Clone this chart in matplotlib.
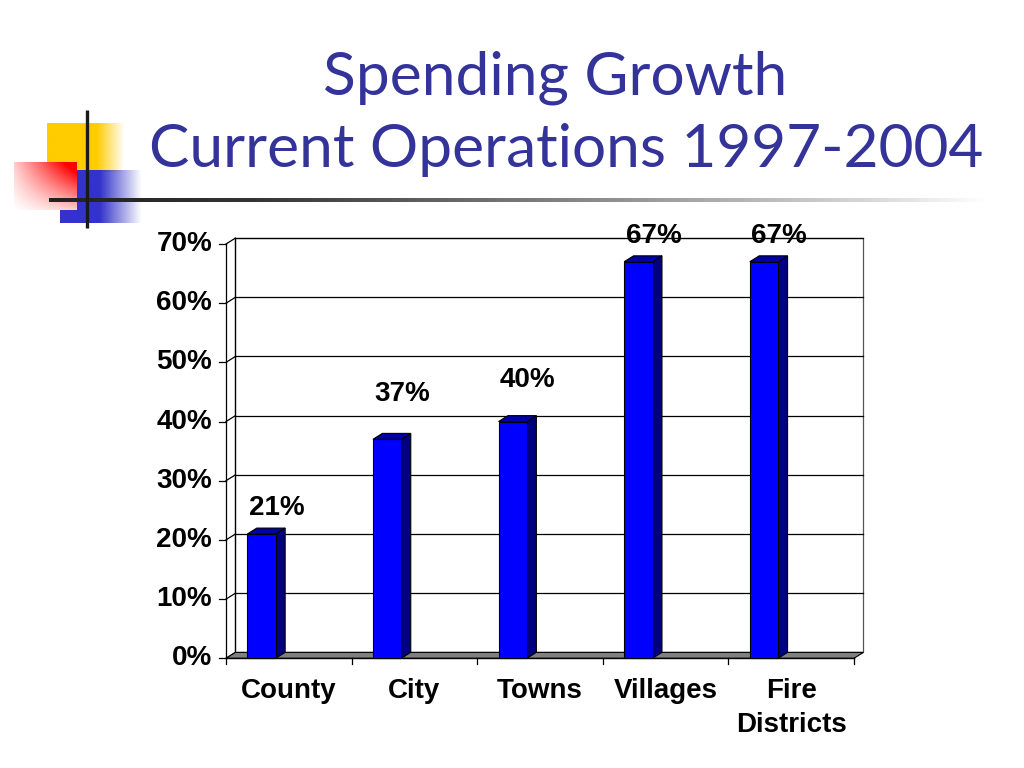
import numpy as np
import matplotlib
matplotlib.use("Agg")
import matplotlib.pyplot as plt
from matplotlib import font_manager
from matplotlib.patches import Polygon, Rectangle

# data
categories = ["County", "City", "Towns", "Villages", "Fire\nDistricts"]
growth_pct = [21, 37, 40, 67, 67]
value_labels = ["21%", "37%", "40%", "67%", "67%"]
y_ticks = [0, 10, 20, 30, 40, 50, 60, 70]
y_tick_labels = ["0%", "10%", "20%", "30%", "40%", "50%", "60%", "70%"]
title_lines = ["Spending Growth", "Current Operations 1997-2004"]

# layout tweaks (label lift above each bar, in % units)
label_lift = [4.4, 7.6, 7.1, 4.4, 4.4]

TITLE_BLUE = "#333399"
installed = {f.name for f in font_manager.fontManager.ttflist}
title_font = "Liberation Sans Narrow" if "Liberation Sans Narrow" in installed else "Lato"
title_size = 46 if title_font == "Liberation Sans Narrow" else 43.5

fig = plt.figure(figsize=(10.24, 7.68), dpi=100)
fig.patch.set_facecolor("white")

# ---- slide decoration, in pixel coords
deco = fig.add_axes([0, 0, 1, 1])
deco.set_axis_off()


def grad_rect(ax, x0, x1, y0, y1, rgba):
    ax.imshow(rgba, extent=(x0, x1, y1, y0), aspect="auto", interpolation="bilinear", zorder=2)


# yellow square, fading right
w = 80
a = np.clip((125 - np.linspace(47, 125, w)) / 28.0, 0, 1)
yel = np.zeros((10, w, 4))
yel[..., 0], yel[..., 1], yel[..., 2] = 1.0, 0.8, 0.0
yel[..., 3] = a[None, :]
grad_rect(deco, 47, 125, 123, 172, yel)

# blue square, fading right
w = 90
a = np.clip((142 - np.linspace(60, 142, w)) / 42.0, 0, 1)
blu = np.zeros((10, w, 4))
blu[..., 0], blu[..., 1], blu[..., 2] = 0.2, 0.2, 0.8
blu[..., 3] = a[None, :]
grad_rect(deco, 60, 142, 170, 223, blu)

# red square, red top-right -> white bottom-left
nx, ny = 60, 50
gx = np.linspace(0, 1, nx)[None, :]
gy = np.linspace(1, 0, ny)[:, None]
t = np.clip(0.8 * gx * gy + 0.2 * (gx + gy), 0, 1)
red = np.ones((ny, nx, 4))
red[..., 1] = 1 - t
red[..., 2] = 1 - t
grad_rect(deco, 14, 77, 162, 210, red)

# horizontal rule fading to light grey
w = 400
g = np.clip(np.interp(np.linspace(49, 985, w), [49, 250, 600, 900, 985],
                      [0.13, 0.2, 0.55, 0.88, 1.0]), 0, 1)
rule = np.ones((2, w, 4))
rule[..., 0] = g[None, :]
rule[..., 1] = g[None, :]
rule[..., 2] = g[None, :]
grad_rect(deco, 49, 985, 198, 202, rule)

deco.plot([87, 87], [110, 228], color="#1a1a1a", lw=2.4, zorder=3, solid_capstyle="butt")

deco.text(555, 78, title_lines[0], ha="center", va="center", color=TITLE_BLUE,
          fontsize=title_size, family=title_font)
deco.text(566, 150, title_lines[1], ha="center", va="center", color=TITLE_BLUE,
          fontsize=title_size, family=title_font)
deco.set_xlim(0, 1024)
deco.set_ylim(768, 0)

# ---- chart
ax = fig.add_axes([226 / 1024, (768 - 658.3) / 768, 628 / 1024, 414.3 / 768])
ax.set_axis_off()
n = len(categories)
ymax = y_ticks[-1]
ax.set_xlim(0, n)
ax.set_ylim(0, ymax)

dx, dy = 0.075, 1.0        # depth offset
edge = dict(edgecolor="black", linewidth=0.8)
lab = dict(fontsize=20, fontweight="bold", family="Liberation Sans", clip_on=False)

# back wall + gridlines
ax.add_patch(Rectangle((dx, dy), n, ymax, facecolor="white", edgecolor="#555555",
                       linewidth=0.9, zorder=1, clip_on=False))
for v in y_ticks[1:]:
    ax.plot([dx, n + dx], [v + dy, v + dy], color="black", lw=0.9, zorder=2, clip_on=False)
for v, s in zip(y_ticks, y_tick_labels):
    ax.plot([0, dx], [v, v + dy], color="black", lw=0.9, zorder=2, clip_on=False)
    ax.plot([-0.055, 0], [v, v], color="black", lw=0.9, zorder=2, clip_on=False)
    ax.text(-0.11, v, s, ha="right", va="center", **lab)

# floor
ax.add_patch(Polygon([(0, 0), (n, 0), (n + dx, dy), (dx, dy)], closed=True,
                     facecolor="#808080", zorder=3, clip_on=False, **edge))
ax.plot([0, 0], [0, ymax], color="black", lw=0.9, zorder=3, clip_on=False)
ax.plot([dx, dx], [dy, ymax + dy], color="black", lw=0.9, zorder=2, clip_on=False)
ax.plot([0, n], [0, 0], color="black", lw=1.0, zorder=3, clip_on=False)
for i in range(n + 1):
    ax.plot([i, i], [0, -1.0], color="black", lw=0.9, zorder=3, clip_on=False)

# bars
bw, off = 0.226, 0.17
for i, v in enumerate(growth_pct):
    x0 = i + off
    x1 = x0 + bw
    ax.add_patch(Polygon([(x1, 0), (x1 + dx, dy), (x1 + dx, v + dy), (x1, v)],
                         closed=True, facecolor="#000080", zorder=4, clip_on=False, **edge))
    ax.add_patch(Polygon([(x0, v), (x1, v), (x1 + dx, v + dy), (x0 + dx, v + dy)],
                         closed=True, facecolor="#0000A8", zorder=4, clip_on=False, **edge))
    ax.add_patch(Rectangle((x0, 0), bw, v, facecolor="#0000FF", zorder=5,
                           clip_on=False, **edge))
    ax.text(x0 + bw / 2 + 0.12, v + label_lift[i], value_labels[i], ha="center",
            va="center", zorder=6, **lab)
    ax.text(i + 0.5, -3.3, categories[i], ha="center", va="top",
            linespacing=1.4, **lab)

fig.savefig("out.png", dpi=100, facecolor="white")
